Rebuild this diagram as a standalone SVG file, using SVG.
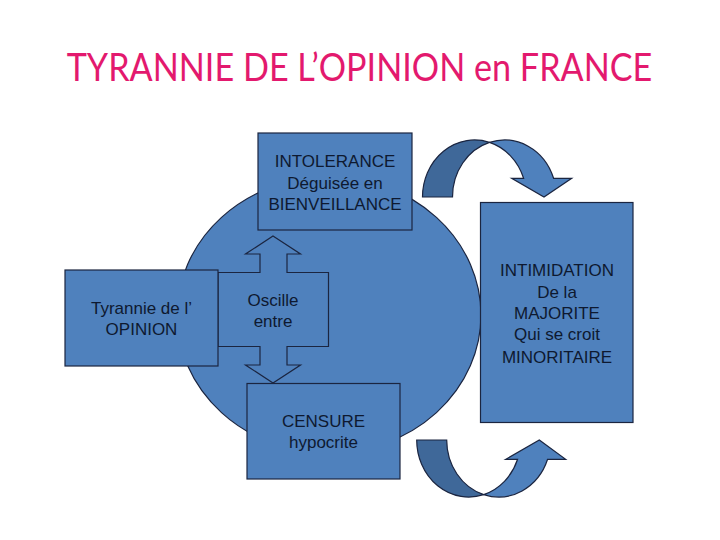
<svg xmlns="http://www.w3.org/2000/svg" width="720" height="540" viewBox="0 0 720 540">
<style>
.shape{fill:#4F81BD;stroke:#1B2540;stroke-width:1.2}
.dark{fill:#3F6899;stroke:#1B2540;stroke-width:1.2}
.lbl{font-family:"Liberation Sans",Arial,sans-serif;font-size:17px;fill:#0E1930;text-anchor:middle}
.title{font-family:Lato,"Open Sans",sans-serif;font-size:39px;fill:#E3196E;text-anchor:middle}
</style>
<rect width="720" height="540" fill="#FFFFFF"/>
<text class="title" transform="translate(359.5,81) scale(0.876,1)" x="0" y="0">TYRANNIE DE L’OPINION en FRANCE</text>
<g id="cercle">
<ellipse class="shape" cx="329" cy="315" rx="152" ry="138"/>
</g>
<g id="intolerance">
<rect class="shape" x="258" y="133" width="154" height="97"/>
<text class="lbl" x="335" y="166.5">INTOLERANCE</text>
<text class="lbl" x="335" y="188.5">Déguisée en</text>
<text class="lbl" x="335" y="210">BIENVEILLANCE</text>
</g>
<g id="oscille">
<polygon class="shape" points="273,236 300.5,254 287,254 287,272.5 328.5,272.5 328.5,346.5 287,346.5 287,365 300.5,365 273,383 245.5,365 260,365 260,346.5 218,346.5 218,272.5 260,272.5 260,254 245.5,254"/>
<text class="lbl" x="273" y="306">Oscille</text>
<text class="lbl" x="273" y="327">entre</text>
</g>
<g id="tyrannie">
<rect class="shape" x="65" y="270" width="153" height="96"/>
<text class="lbl" x="141.5" y="313.5">Tyrannie de l’</text>
<text class="lbl" x="141.5" y="335">OPINION</text>
</g>
<g id="censure">
<rect class="shape" x="247" y="383.5" width="153" height="95.5"/>
<text class="lbl" x="323.5" y="426.5">CENSURE</text>
<text class="lbl" x="323.5" y="448">hypocrite</text>
</g>
<g id="intimidation">
<rect class="shape" x="480.5" y="202.5" width="152.5" height="220"/>
<text class="lbl" x="557" y="276">INTIMIDATION</text>
<text class="lbl" x="557" y="297.5">De la</text>
<text class="lbl" x="557" y="318.5">MAJORITE</text>
<text class="lbl" x="557" y="340">Qui se croit</text>
<text class="lbl" x="557" y="362.5">MINORITAIRE</text>
</g>
<g id="connecteurs">
<g id="fleche-haut">
<path class="dark" d="M422.5,197 A52,57 0 0 1 489.5,142.4 A52,57 0 0 0 452.5,197 Z"/>
<path class="shape" d="M489.5,142.4 A52,57 0 0 1 553.6,178.3 L571.7,178.3 L544,197 L511.7,178.3 L523.6,178.3 A52,57 0 0 0 489.5,142.4 Z"/>
</g>
<g id="fleche-bas">
<path class="dark" d="M416.7,440 A52,57 0 0 0 483.7,494.6 A52,57 0 0 1 446.7,440 Z"/>
<path class="shape" d="M483.7,494.6 A52,57 0 0 0 547.6,459.3 L565.7,459.3 L539.3,440 L505.7,459.3 L517.6,459.3 A52,57 0 0 1 483.7,494.6 Z"/>
</g>
</g>
</svg>
